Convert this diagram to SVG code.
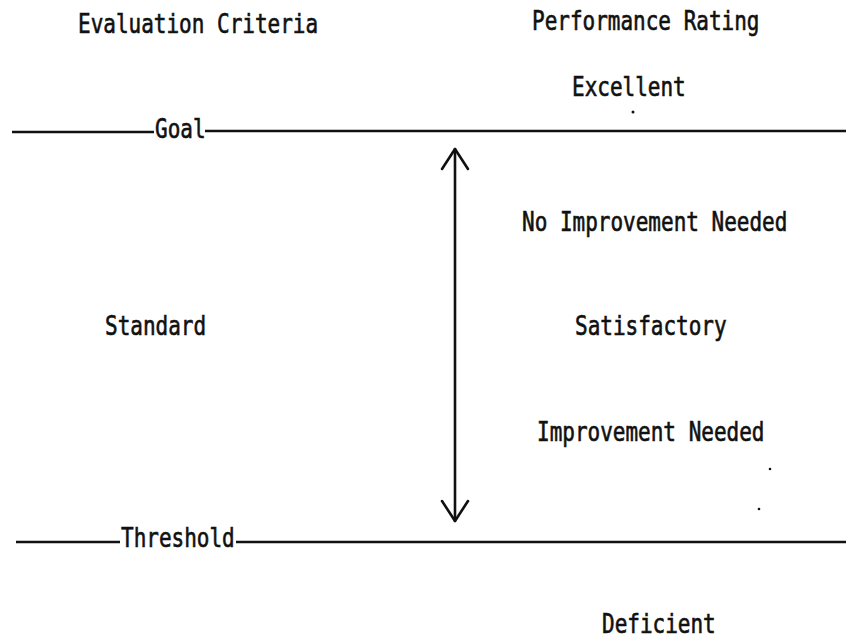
<svg xmlns="http://www.w3.org/2000/svg" width="846" height="644" viewBox="0 0 846 644">
<style>
.t{font-family:"DejaVu Sans Mono","Liberation Mono",monospace;font-size:21px;fill:#111;stroke:#111;stroke-width:0.5;}
.ln{stroke:#111;stroke-width:2.6;fill:none;}
.ar{stroke:#111;stroke-width:2.6;fill:none;stroke-linecap:round;stroke-linejoin:round;}
</style>
<rect width="846" height="644" fill="#fff"/>
<g id="headers">
<text class="t" transform="translate(78,33) scale(1,1.3)">Evaluation Criteria</text>
<text class="t" transform="translate(532,30) scale(1,1.3)">Performance Rating</text>
</g>
<g id="goal">
<line class="ln" x1="12" y1="132" x2="154" y2="132"/>
<text class="t" transform="translate(155,138) scale(1,1.3)">Goal</text>
<line class="ln" x1="205" y1="131" x2="846" y2="131"/>
</g>
<g id="threshold">
<line class="ln" x1="16" y1="542" x2="120" y2="542"/>
<text class="t" transform="translate(121,547) scale(1,1.3)">Threshold</text>
<line class="ln" x1="236" y1="542" x2="846" y2="542"/>
</g>
<g id="connectors">
<line class="ar" x1="455" y1="149" x2="455" y2="521"/>
<polyline class="ar" points="442,169 455,149 468,169"/>
<polyline class="ar" points="442,501 455,521 468,501"/>
</g>
<g id="standard"><text class="t" transform="translate(105,335) scale(1,1.3)">Standard</text></g>
<g id="excellent"><text class="t" transform="translate(572,96) scale(1,1.3)">Excellent</text></g>
<g id="no-improvement"><text class="t" transform="translate(522,231) scale(1,1.3)">No Improvement Needed</text></g>
<g id="satisfactory"><text class="t" transform="translate(575,335) scale(1,1.3)">Satisfactory</text></g>
<g id="improvement"><text class="t" transform="translate(537,441) scale(1,1.3)">Improvement Needed</text></g>
<g id="deficient"><text class="t" transform="translate(602,633) scale(1,1.3)">Deficient</text></g>
<g id="specks" fill="#111">
<circle cx="633" cy="112" r="1.5"/>
<circle cx="770" cy="469" r="1.3"/>
<circle cx="759" cy="509" r="1.3"/>
</g>
</svg>
